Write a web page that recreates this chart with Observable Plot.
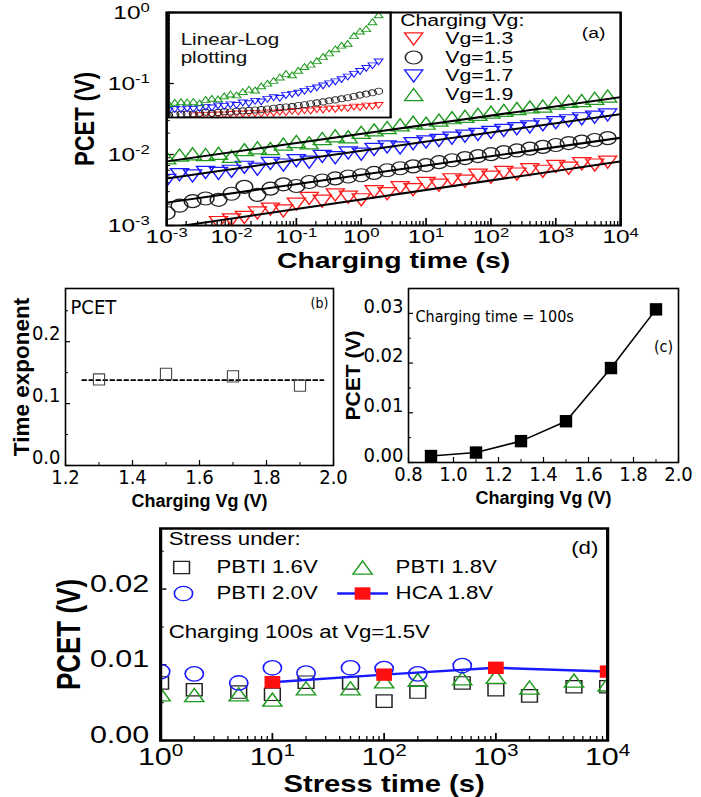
<!DOCTYPE html>
<html>
<head>
<meta charset="utf-8">
<script src="https://cdn.jsdelivr.net/npm/d3@7"></script>
<script src="https://cdn.jsdelivr.net/npm/@observablehq/plot@0.6"></script>
<style>
  html, body { margin: 0; padding: 0; background: #fff; }
  #wrap { position: relative; width: 701px; height: 797px; overflow: hidden; background: #fff; }
</style>
</head>
<body>
<div id="wrap"></div>
<script>
// ================= DATA =================
// Panel (a): PCET vs charging time for four charging Vg
const chargeTimes = [0.001, 0.00158, 0.00251, 0.00398, 0.00631, 0.01, 0.0158, 0.0251, 0.0398, 0.0631,
  0.1, 0.158, 0.251, 0.398, 0.631, 1, 1.58, 2.51, 3.98, 6.31,
  10, 15.8, 25.1, 39.8, 63.1, 100, 158, 251, 398, 631,
  1000, 1580, 2510, 3980, 6310];
const pcetVg13 = [null, null, null, null, 0.0011, 0.0012, 0.0013, 0.0015, 0.0017, 0.0016,
  0.0020, 0.0024, 0.0022, 0.0027, 0.0025, 0.0023, 0.0030, 0.0028, 0.0034, 0.0032,
  0.0039, 0.0037, 0.0044, 0.0042, 0.0051, 0.0048, 0.0056, 0.0053, 0.0061, 0.0058,
  0.0068, 0.0064, 0.0074, 0.0071, 0.0078];
const pcetVg15 = [0.0015, 0.0019, 0.0022, 0.0024, 0.0023, 0.0028, 0.0035, 0.0027, 0.0033, 0.0038,
  0.0036, 0.0041, 0.0043, 0.0046, 0.0049, 0.0051, 0.0055, 0.0060, 0.0064, 0.0068,
  0.0071, 0.0078, 0.0083, 0.0089, 0.0095, 0.0101, 0.0108, 0.0114, 0.0121, 0.0128,
  0.0136, 0.0145, 0.0152, 0.0160, 0.0170];
const pcetVg17 = [0.0043, 0.0052, 0.0050, 0.0056, 0.0054, 0.0058, 0.0066, 0.0062, 0.0075, 0.0071,
  0.0082, 0.0078, 0.0094, 0.0090, 0.0105, 0.0101, 0.0118, 0.0128, 0.0124, 0.0142,
  0.0150, 0.0158, 0.0170, 0.0181, 0.0192, 0.0205, 0.0218, 0.0231, 0.0245, 0.0262,
  0.0280, 0.0298, 0.0318, 0.0335, 0.0360];
const pcetVg19 = [0.0090, 0.0098, 0.0102, 0.0100, 0.0104, 0.0094, 0.0117, 0.0124, 0.0121, 0.0140,
  0.0152, 0.0146, 0.0168, 0.0183, 0.0178, 0.0205, 0.0222, 0.0240, 0.0262, 0.0285,
  0.0276, 0.0305, 0.0330, 0.0345, 0.0368, 0.0395, 0.0418, 0.0445, 0.0468, 0.0480,
  0.0530, 0.0560, 0.0575, 0.0620, 0.0665];
const vgLabelsA = ["Vg=1.3", "Vg=1.5", "Vg=1.7", "Vg=1.9"];
const fitTimes = [0.001, 10000];
const fitStart = [0.00092, 0.0021, 0.0046, 0.0080];
const fitEnd = [0.0080, 0.0172, 0.0370, 0.0640];
const xTicksA = [1e-3, 1e-2, 1e-1, 1e0, 1e1, 1e2, 1e3, 1e4];
const yTicksA = [1e-3, 1e-2, 1e-1, 1e0];

// Panel (b): time exponent vs charging Vg
const vgB = [1.3, 1.5, 1.7, 1.9];
const expB = [0.139, 0.148, 0.144, 0.129];
const expMeanVg = [1.25, 1.97];
const expMean = [0.138, 0.138];
const xTicksB = [1.2, 1.4, 1.6, 1.8, 2.0];
const yTicksB = [0.0, 0.1, 0.2];

// Panel (c): PCET at 100 s vs charging Vg
const vgC = [0.9, 1.1, 1.3, 1.5, 1.7, 1.9];
const pcetC = [0.0013, 0.0020, 0.0043, 0.0083, 0.0190, 0.0308];
const xTicksC = [0.8, 1.0, 1.2, 1.4, 1.6, 1.8, 2.0];
const yTicksC = [0.00, 0.01, 0.02, 0.03];

// Panel (d): PCET vs stress time
const stressTimes = [1, 2, 5, 10, 20, 50, 100, 200, 500, 1000, 2000, 5000, 10000];
const pbti16 = [0.0076, 0.0067, 0.0064, 0.0061, 0.0077, 0.0076, 0.0052, 0.0064, 0.0076, 0.0067, 0.0059, 0.0071, 0.0071];
const pbti18 = [0.0061, 0.0060, 0.0061, 0.0054, 0.0069, 0.0069, 0.0078, 0.0080, 0.0082, 0.0084, 0.0070, 0.0079, 0.0074];
const pbti20 = [0.0091, 0.0088, 0.0076, 0.0096, 0.0089, 0.0096, 0.0095, 0.0088, 0.0099, null, null, null, null];
const hcaTimes = [10, 100, 1000, 10000];
const hca18 = [0.0077, 0.0087, 0.0096, 0.0091];
const xTicksD = [1, 10, 100, 1000, 10000];
const yTicksD = [0.00, 0.01, 0.02];

// ================= HELPERS =================
const SANS = '"Liberation Sans", Arial, Helvetica, sans-serif';
const NARROW = '"Liberation Sans Narrow", "Arial Narrow", "DejaVu Sans Condensed", "Liberation Sans", sans-serif';
const wrap = document.getElementById("wrap");

function minorLog(e0, e1) {
  const out = [];
  for (let e = e0; e < e1; e++) for (let m = 2; m <= 9; m++) out.push(m * Math.pow(10, e));
  return out;
}
const pow10Label = d => "10^" + Math.round(Math.log10(d));
const blank = () => "";

function triSym(up) {
  return {
    draw(ctx, size) {
      const s = Math.sqrt(size * 4 / Math.sqrt(3));
      const h = s * Math.sqrt(3) / 2;
      const k = up ? -1 : 1;
      ctx.moveTo(0, k * h / 2);
      ctx.lineTo(s / 2, -k * h / 2);
      ctx.lineTo(-s / 2, -k * h / 2);
      ctx.closePath();
    }
  };
}
const triUp = triSym(true), triDown = triSym(false);
const hLine = { draw(ctx) { ctx.moveTo(-20, 0); ctx.lineTo(20, 0); } };

// text helper: every annotation is centred on its line
const label = (str, o) => Plot.text([str], { text: d => d, lineAnchor: "middle", textAnchor: "middle", ...o });

function supLabels(svg) {
  d3.select(svg).selectAll("text").each(function () {
    const m = /^10\^(-?\d+)$/.exec(this.textContent);
    if (m) {
      const el = d3.select(this);
      el.text("10");
      el.append("tspan").attr("dy", "-0.5em").attr("font-size", "0.68em").text(m[1]);
    }
  });
}
function place(svg, left, top, screenW) {
  const w = +svg.getAttribute("width"), h = +svg.getAttribute("height");
  svg.setAttribute("viewBox", `0 0 ${w} ${h}`);
  svg.setAttribute("preserveAspectRatio", "none");
  svg.setAttribute("width", screenW);
  svg.style.width = screenW + "px";
  svg.style.height = h + "px";
  svg.style.maxWidth = "none";
  svg.style.position = "absolute";
  svg.style.left = left + "px";
  svg.style.top = top + "px";
  supLabels(svg);
  wrap.appendChild(svg);
}

// ================= PANEL (a) =================
const SA = 1.29;
const seriesA = [
  { label: vgLabelsA[0], values: pcetVg13, color: "#ff1a1a", sym: triDown, r: 5.2, ri: 2.5 },
  { label: vgLabelsA[1], values: pcetVg15, color: "#222222", sym: "circle", r: 6.5, ri: 3.1 },
  { label: vgLabelsA[2], values: pcetVg17, color: "#1a1aff", sym: triDown, r: 5.2, ri: 2.5 },
  { label: vgLabelsA[3], values: pcetVg19, color: "#1f9a1f", sym: triUp, r: 5.2, ri: 2.5 }
];
const rowsA = s => chargeTimes.map((t, k) => ({ t, v: s.values[k] })).filter(d => d.v != null);
const fitRows = seriesA.flatMap((s, i) => fitTimes.map((t, j) => ({ t, v: j === 0 ? fitStart[i] : fitEnd[i], s: i })));

const inset = Plot.plot({
  width: 222 / SA, height: 105, margin: 0,
  style: { background: "white", overflow: "visible", fontFamily: SANS },
  x: { type: "log", domain: [1e-3, 15500], label: null, axis: null },
  y: { domain: [0, 0.068], label: null, axis: null },
  marks: [
    ...seriesA.map(s => Plot.dot(rowsA(s), { x: "t", y: "v", symbol: s.sym, r: s.ri, stroke: s.color, strokeWidth: 0.9, fill: "none", clip: true })),
    Plot.frame({ stroke: "black", strokeWidth: 1.8 }),
    label("Linear-Log", { frameAnchor: "top-left", dx: 12 / SA, dy: 27, textAnchor: "start", fontSize: 16, fontFamily: SANS, fill: "#111" }),
    label("plotting", { frameAnchor: "top-left", dx: 12 / SA, dy: 45, textAnchor: "start", fontSize: 16, fontFamily: SANS, fill: "#111" })
  ]
});
place(inset, 168, 12, 222);

const legendRowsA = [26.5, 45, 63.5, 82];
const mainA = Plot.plot({
  width: 701 / SA, height: 275,
  marginLeft: 166 / SA, marginRight: 81 / SA, marginTop: 12, marginBottom: 50,
  style: { background: "transparent", overflow: "visible", fontFamily: SANS },
  x: { type: "log", domain: [1e-3, 1e4], label: null },
  y: { type: "log", domain: [1e-3, 1], label: null },
  marks: [
    Plot.axisX(minorLog(-3, 4), { tickSize: -4, tickFormat: blank, label: null, strokeWidth: 1 }),
    Plot.axisX(xTicksA, { tickSize: -7, tickFormat: blank, label: null, strokeWidth: 1.3 }),
    Plot.axisX(xTicksA, { tickSize: 0, tickPadding: 4, tickFormat: pow10Label, label: null, fontSize: 19, fontFamily: SANS, fill: "black" }),
    Plot.axisY(minorLog(-3, 0), { tickSize: -3, tickFormat: blank, label: null, strokeWidth: 1 }),
    Plot.axisY(yTicksA, { tickSize: -6, tickFormat: blank, label: null, strokeWidth: 1.3 }),
    Plot.axisY(yTicksA, { tickSize: 0, tickPadding: 13, tickFormat: pow10Label, label: null, fontSize: 19, fontFamily: SANS, fill: "black" }),
    ...seriesA.map(s => Plot.dot(rowsA(s), { x: "t", y: "v", symbol: s.sym, r: s.r, stroke: s.color, strokeWidth: 1.2, fill: "none", clip: true })),
    Plot.line(fitRows, { x: "t", y: "v", z: "s", stroke: "black", strokeWidth: 2, clip: true }),
    Plot.frame({ stroke: "black", strokeWidth: 2 }),
    label("Charging Vg:", { frameAnchor: "top-left", dx: 181, dy: 8, textAnchor: "start", fontSize: 16.5, fontFamily: SANS }),
    ...seriesA.map((s, i) => Plot.dot([s.label], { frameAnchor: "top-left", dx: 191.5, dy: legendRowsA[i], symbol: s.sym, r: s.r, stroke: s.color, strokeWidth: 1.2, fill: "none" })),
    ...seriesA.map((s, i) => label(s.label, { frameAnchor: "top-left", dx: 216, dy: legendRowsA[i], textAnchor: "start", fontSize: 16.5, fontFamily: SANS })),
    label("(a)", { frameAnchor: "top-right", dx: -21, dy: 21, fontSize: 15, fontFamily: SANS }),
    label("PCET (V)", { frameAnchor: "left", rotate: -90, dx: -63, fontSize: 22, fontWeight: "bold", fontFamily: SANS }),
    label("Charging time (s)", { frameAnchor: "bottom", dy: 35, fontSize: 22, fontWeight: "bold", fontFamily: SANS })
  ]
});
place(mainA, 0, 0, 701);

// ================= PANEL (b) =================
const rowsB = vgB.map((v, i) => ({ vg: v, e: expB[i] }));
const meanRows = expMeanVg.map((v, i) => ({ vg: v, e: expMean[i] }));
const plotB = Plot.plot({
  width: 350, height: 240, marginLeft: 65, marginRight: 17, marginTop: 18, marginBottom: 45,
  style: { background: "transparent", overflow: "visible", fontFamily: SANS },
  x: { domain: [1.2, 2.0], label: null },
  y: { domain: [0, 0.286], label: null },
  marks: [
    Plot.axisX([1.3, 1.5, 1.7, 1.9], { tickSize: -3, tickFormat: blank, label: null }),
    Plot.axisX(xTicksB, { tickSize: -5, tickFormat: blank, label: null, strokeWidth: 1.2 }),
    Plot.axisX(xTicksB, { tickSize: 0, tickPadding: 4, tickFormat: d => d.toFixed(1), label: null, fontSize: 20, fontFamily: NARROW, fill: "black" }),
    Plot.axisY([0.05, 0.15, 0.25], { tickSize: -3, tickFormat: blank, label: null }),
    Plot.axisY(yTicksB, { tickSize: -5, tickFormat: blank, label: null, strokeWidth: 1.2 }),
    Plot.axisY(yTicksB, { tickSize: 0, tickPadding: 5, dy: -8, tickFormat: d => d.toFixed(1), label: null, fontSize: 20, fontFamily: NARROW, fill: "black" }),
    Plot.line(meanRows, { x: "vg", y: "e", stroke: "black", strokeWidth: 1.8, strokeDasharray: "4,3" }),
    Plot.dot(rowsB, { x: "vg", y: "e", symbol: "square", r: 6.3, stroke: "#444", strokeWidth: 1.1, fill: "none" }),
    Plot.frame({ stroke: "black", strokeWidth: 1.6 }),
    label("PCET", { frameAnchor: "top-left", dx: 5, dy: 19, textAnchor: "start", fontSize: 20, fontFamily: NARROW }),
    label("(b)", { frameAnchor: "top-right", dx: -14, dy: 15, fontSize: 14, fontFamily: NARROW }),
    label("Time exponent", { frameAnchor: "left", rotate: -90, dx: -44, fontSize: 22.5, fontWeight: "bold", fontFamily: SANS }),
    label("Charging Vg (V)", { frameAnchor: "bottom", dy: 36, fontSize: 18, fontWeight: "bold", fontFamily: SANS })
  ]
});
place(plotB, 0, 270, 350);

// ================= PANEL (c) =================
const rowsC = vgC.map((v, i) => ({ vg: v, p: pcetC[i] }));
const plotC = Plot.plot({
  width: 351, height: 240, marginLeft: 58, marginRight: 23, marginTop: 18, marginBottom: 48,
  style: { background: "transparent", overflow: "visible", fontFamily: SANS },
  x: { domain: [0.8, 2.0], label: null },
  y: { domain: [0, 0.035], label: null },
  marks: [
    Plot.axisX([0.9, 1.1, 1.3, 1.5, 1.7, 1.9], { tickSize: -3, tickFormat: blank, label: null }),
    Plot.axisX(xTicksC, { tickSize: -5, tickFormat: blank, label: null, strokeWidth: 1.2 }),
    Plot.axisX(xTicksC, { tickSize: 0, tickPadding: 4, tickFormat: d => d.toFixed(1), label: null, fontSize: 20, fontFamily: NARROW, fill: "black" }),
    Plot.axisY([0.005, 0.015, 0.025], { tickSize: -3, tickFormat: blank, label: null }),
    Plot.axisY(yTicksC, { tickSize: -5, tickFormat: blank, label: null, strokeWidth: 1.2 }),
    Plot.axisY(yTicksC, { tickSize: 0, tickPadding: 5, dy: -7, tickFormat: d => d.toFixed(2), label: null, fontSize: 20, fontFamily: NARROW, fill: "black" }),
    Plot.line(rowsC, { x: "vg", y: "p", stroke: "black", strokeWidth: 1.6 }),
    Plot.dot(rowsC, { x: "vg", y: "p", symbol: "square", r: 7, fill: "black", stroke: "none" }),
    Plot.frame({ stroke: "black", strokeWidth: 1.6 }),
    label("Charging time = 100s", { frameAnchor: "top-left", dx: 7, dy: 28, textAnchor: "start", fontSize: 16, fontFamily: NARROW }),
    label("(c)", { frameAnchor: "top-right", dx: -15, dy: 58, fontSize: 16, fontFamily: NARROW }),
    label("PCET (V)", { frameAnchor: "left", rotate: -90, dx: -55, fontSize: 21, fontWeight: "bold", fontFamily: SANS }),
    label("Charging Vg (V)", { frameAnchor: "bottom", dy: 36, fontSize: 18, fontWeight: "bold", fontFamily: SANS })
  ]
});
place(plotC, 350, 270, 351);

// ================= PANEL (d) =================
const SD = 1.27;
const rowsD = arr => stressTimes.map((t, k) => ({ t, v: arr[k] })).filter(d => d.v != null);
const rowsHCA = hcaTimes.map((t, k) => ({ t, v: hca18[k] }));
const GREEN = "#1f9a1f", BLUE = "#1a1aff", RED = "#ff1010";
const plotD = Plot.plot({
  width: 701 / SD, height: 287,
  marginLeft: 160 / SD, marginRight: 94 / SD, marginTop: 18, marginBottom: 57,
  style: { background: "transparent", overflow: "visible", fontFamily: SANS },
  x: { type: "log", domain: [1, 1e4], label: null },
  y: { domain: [0, 0.028], label: null },
  marks: [
    Plot.axisX(minorLog(0, 4), { tickSize: -4, tickFormat: blank, label: null }),
    Plot.axisX(xTicksD, { tickSize: -7, tickFormat: blank, label: null, strokeWidth: 1.4 }),
    Plot.axisX(xTicksD, { tickSize: 0, tickPadding: 7, tickFormat: pow10Label, label: null, fontSize: 24, fontFamily: SANS, fill: "black" }),
    Plot.axisY([0.005, 0.015, 0.025], { tickSize: -3, tickFormat: blank, label: null }),
    Plot.axisY(yTicksD, { tickSize: -5, tickFormat: blank, label: null, strokeWidth: 1.4 }),
    Plot.axisY(yTicksD, { tickSize: 0, tickPadding: 9, dy: -5, tickFormat: d => d.toFixed(2), label: null, fontSize: 24, fontFamily: SANS, fill: "black" }),
    Plot.dot(rowsD(pbti16), { x: "t", y: "v", symbol: "square", r: 7, stroke: "#222", strokeWidth: 1.2, fill: "none", clip: true }),
    Plot.dot(rowsD(pbti18), { x: "t", y: "v", symbol: triUp, r: 5.6, stroke: GREEN, strokeWidth: 1.3, fill: "none", clip: true }),
    Plot.dot(rowsD(pbti20), { x: "t", y: "v", r: 7.2, stroke: BLUE, strokeWidth: 1.3, fill: "none", clip: true }),
    Plot.line(rowsHCA, { x: "t", y: "v", stroke: BLUE, strokeWidth: 2.5, clip: true }),
    Plot.dot(rowsHCA, { x: "t", y: "v", symbol: "square", r: 7, fill: RED, stroke: "none", clip: true }),
    Plot.frame({ stroke: "black", strokeWidth: 2.5 }),
    label("Stress under:", { frameAnchor: "top-left", dx: 6.3, dy: 11, textAnchor: "start", fontSize: 17.5, fontFamily: SANS }),
    Plot.dot(["PBTI 1.6V"], { frameAnchor: "top-left", dx: 16.5, dy: 39, symbol: "square", r: 7, stroke: "#222", strokeWidth: 1.2, fill: "none" }),
    label("PBTI 1.6V", { frameAnchor: "top-left", dx: 44, dy: 39, textAnchor: "start", fontSize: 17.5, fontFamily: SANS }),
    Plot.dot(["PBTI 1.8V"], { frameAnchor: "top-left", dx: 159, dy: 39, symbol: triUp, r: 5.6, stroke: GREEN, strokeWidth: 1.3, fill: "none" }),
    label("PBTI 1.8V", { frameAnchor: "top-left", dx: 185, dy: 39, textAnchor: "start", fontSize: 17.5, fontFamily: SANS }),
    Plot.dot(["PBTI 2.0V"], { frameAnchor: "top-left", dx: 18, dy: 65, r: 7.2, stroke: BLUE, strokeWidth: 1.3, fill: "none" }),
    label("PBTI 2.0V", { frameAnchor: "top-left", dx: 44, dy: 65, textAnchor: "start", fontSize: 17.5, fontFamily: SANS }),
    Plot.dot(["HCA 1.8V"], { frameAnchor: "top-left", dx: 159, dy: 65, symbol: hLine, stroke: BLUE, strokeWidth: 2.5, fill: "none" }),
    Plot.dot(["HCA 1.8V"], { frameAnchor: "top-left", dx: 159, dy: 65, symbol: "square", r: 7, fill: RED, stroke: "none" }),
    label("HCA 1.8V", { frameAnchor: "top-left", dx: 185, dy: 65, textAnchor: "start", fontSize: 17.5, fontFamily: SANS }),
    label("Charging 100s at Vg=1.5V", { frameAnchor: "top-left", dx: 6.3, dy: 104, textAnchor: "start", fontSize: 17.5, fontFamily: SANS }),
    label("(d)", { frameAnchor: "top-right", dx: -18, dy: 20, fontSize: 17.5, fontFamily: SANS }),
    label("PCET (V)", { frameAnchor: "left", rotate: -90, dx: -72, fontSize: 26, fontWeight: "bold", fontFamily: SANS }),
    label("Stress time (s)", { frameAnchor: "bottom", dy: 44, fontSize: 23, fontWeight: "bold", fontFamily: SANS })
  ]
});
place(plotD, 0, 510, 701);
</script>
</body>
</html>
